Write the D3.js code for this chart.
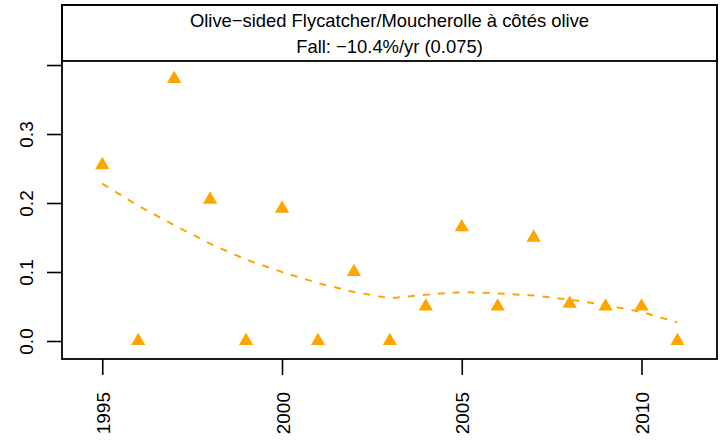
<!DOCTYPE html>
<html>
<head>
<meta charset="utf-8">
<script src="https://cdn.jsdelivr.net/npm/d3@7"></script>
<style>
  body { margin: 0; background: #fff; }
  text { font-family: "Liberation Sans", Arial, sans-serif; }
</style>
</head>
<body>
<svg width="722" height="441" id="mainsvg"></svg>
<script>
    // data
    const years = [1995, 1996, 1997, 1998, 1999, 2000, 2001, 2002, 2003,
                   2004, 2005, 2006, 2007, 2008, 2009, 2010, 2011];
    const counts = [0.255, 0, 0.38, 0.205, 0, 0.192, 0, 0.1, 0,
                    0.05, 0.165, 0.05, 0.15, 0.054, 0.05, 0.05, 0];
    const smooth = [0.228, 0.196, 0.168, 0.141, 0.118, 0.100, 0.084, 0.071, 0.062,
                    0.067, 0.071, 0.069, 0.066, 0.060, 0.052, 0.042, 0.027];
    const xTicks = [1995, 2000, 2005, 2010];
    const yTicks = [0, 0.1, 0.2, 0.3, 0.4];
    const title1 = "Olive\u2212sided Flycatcher/Moucherolle à côtés olive";
    const title2 = "Fall: \u221210.4%/yr (0.075)";

    const col = "#FFA500";
    const pLeft = 62, pRight = 717, pTop = 5, pBottom = 359, headerH = 56;

    let svg = d3.select('#mainsvg');

    let x = d3.scaleLinear().domain([1993.88, 2012.1]).range([pLeft, pRight]);
    let y = d3.scaleLinear().domain([-0.0261, 0.487]).range([pBottom, pTop]);

    // smooth dashed line
    let line = d3.line().x((d, i) => x(years[i])).y(d => y(d));
    svg.append('path')
        .datum(smooth)
        .attr('d', line)
        .attr('fill', 'none')
        .attr('stroke', col)
        .attr('stroke-width', 2)
        .attr('stroke-dasharray', '7,8');

    // filled triangles (R pch 17)
    let s = 5.3;
    let tri = 'M0,' + (-1.555 * s) + 'L' + (1.347 * s) + ',' + (0.778 * s) +
              'L' + (-1.347 * s) + ',' + (0.778 * s) + 'Z';
    svg.append('g').selectAll('path')
        .data(counts)
        .join('path')
        .attr('d', tri)
        .attr('transform', (d, i) => 'translate(' + x(years[i]) + ',' + y(d) + ')')
        .attr('fill', col);

    // header strip
    svg.append('rect')
        .attr('x', pLeft).attr('y', pTop)
        .attr('width', pRight - pLeft).attr('height', headerH)
        .attr('fill', 'white')
        .attr('stroke', 'black').attr('stroke-width', 1.8);
    svg.append('text')
        .attr('x', (pLeft + pRight) / 2).attr('y', pTop + 22)
        .attr('text-anchor', 'middle')
        .style('font-size', '18.4px')
        .text(title1);
    svg.append('text')
        .attr('x', (pLeft + pRight) / 2).attr('y', pTop + 47.5)
        .attr('text-anchor', 'middle')
        .style('font-size', '18.4px')
        .text(title2);

    // plot box
    svg.append('rect')
        .attr('x', pLeft).attr('y', pTop)
        .attr('width', pRight - pLeft).attr('height', pBottom - pTop)
        .attr('fill', 'none')
        .attr('stroke', 'black').attr('stroke-width', 1.8);

    // axes
    let yAxis = d3.axisLeft(y).tickValues(yTicks).tickSize(15)
        .tickFormat(d => d >= 0.35 ? '' : d3.format('.1f')(d));
    let gy = svg.append('g').attr('transform', 'translate(' + pLeft + ',0)').call(yAxis);
    gy.select('.domain').remove();
    gy.selectAll('line').attr('stroke-width', 1.6);
    gy.selectAll('text')
        .attr('transform', 'rotate(-90)')
        .attr('x', 0).attr('y', -29).attr('dy', 0)
        .attr('text-anchor', 'middle')
        .style('font-size', '19px')
        .attr('fill', 'black');

    let xAxis = d3.axisBottom(x).tickValues(xTicks).tickSize(16).tickFormat(d3.format('d'));
    let gx = svg.append('g').attr('transform', 'translate(0,' + pBottom + ')').call(xAxis);
    gx.select('.domain').remove();
    gx.selectAll('line').attr('stroke-width', 1.6);
    gx.selectAll('text')
        .attr('transform', 'rotate(-90)')
        .attr('x', -33).attr('y', 7).attr('dy', 0)
        .attr('text-anchor', 'end')
        .style('font-size', '19px')
        .attr('fill', 'black');
</script>
</body>
</html>
